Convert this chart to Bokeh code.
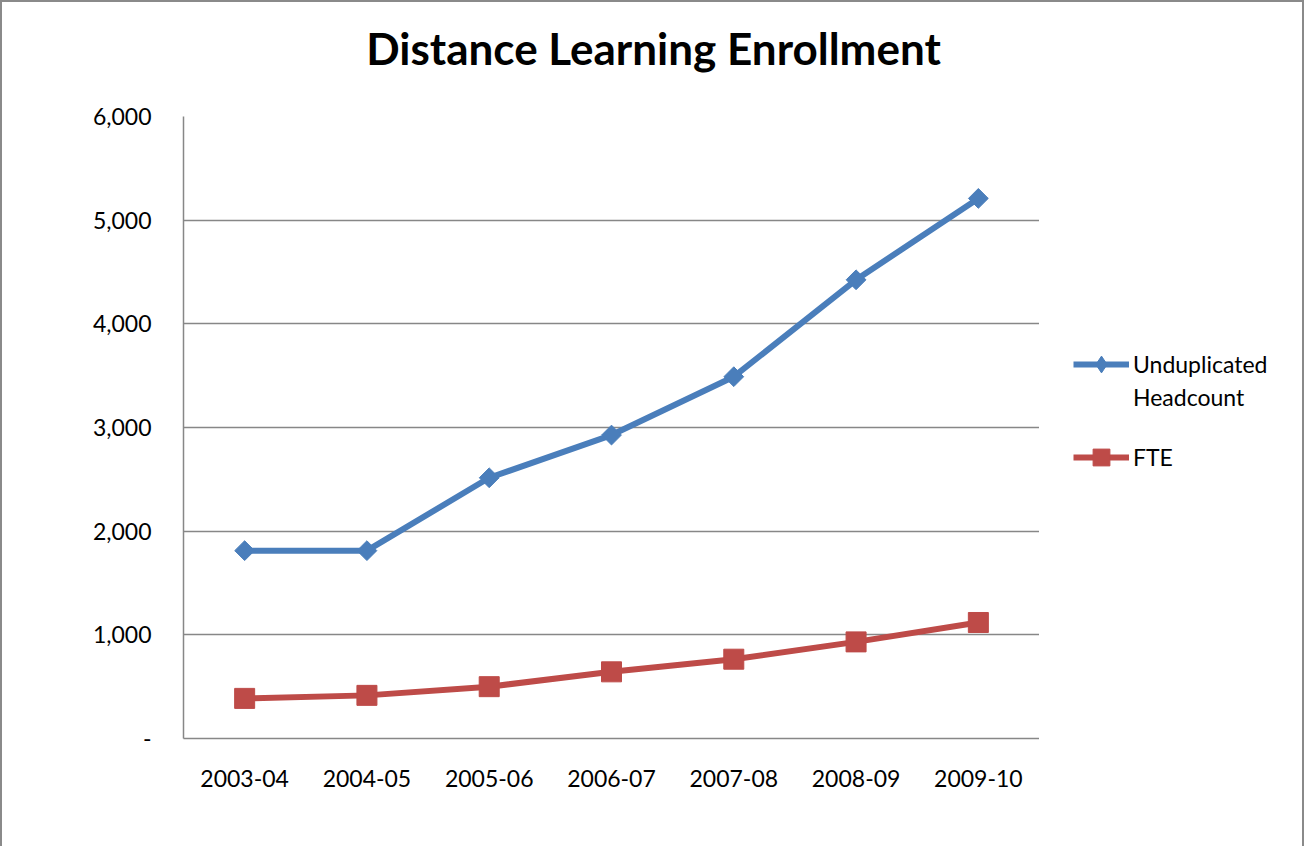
from bokeh.plotting import figure
from bokeh.layouts import column, row
from bokeh.models import Legend, LegendItem, Label, FixedTicker, Range1d, FactorRange
from bokeh.embed import file_html
from bokeh.resources import INLINE

years = ["2003-04", "2004-05", "2005-06", "2006-07", "2007-08", "2008-09", "2009-10"]
headcount = [1812, 1812, 2515, 2927, 3490, 4425, 5210]
fte = [387, 416, 500, 643, 765, 932, 1119]
y_ticks = [0, 1000, 2000, 3000, 4000, 5000, 6000]
y_tick_labels = ["-", "1,000", "2,000", "3,000", "4,000", "5,000", "6,000"]
title_text = "Distance Learning Enrollment"
series_label_lines = ["Unduplicated", "Headcount"]
fte_label = "FTE"

BLUE = "#4A7EBB"
RED = "#BE4B48"
GRID = "#878787"
FONT = "Lato"

# ---------- title strip ----------
pt = figure(width=1300, height=90, output_backend="svg", toolbar_location=None,
            x_axis_location=None, y_axis_location=None, min_border=0,
            x_range=Range1d(0, 1), y_range=Range1d(0, 1))
pt.outline_line_color = None
pt.grid.visible = False
pt.add_layout(Label(x=651, y=45, x_units="screen", y_units="screen", text=title_text,
                    text_align="center", text_baseline="alphabetic", text_font=FONT,
                    text_font_style="bold", text_font_size="44px", text_color="black"))

# ---------- main chart ----------
p = figure(x_range=FactorRange(factors=years), y_range=Range1d(0, 6000),
           width=1037, height=754, output_backend="svg", toolbar_location=None,
           min_border_left=181, min_border_right=0, min_border_top=24, min_border_bottom=108)
p.outline_line_color = None

for ax in (p.xaxis[0], p.yaxis[0]):
    ax.axis_line_color = GRID
    ax.axis_line_width = 1.5
    ax.major_tick_line_color = None
    ax.minor_tick_line_color = None
    ax.major_tick_out = 0
    ax.major_tick_in = 0
    ax.major_label_text_font = FONT
    ax.major_label_text_font_size = "23px"
    ax.major_label_text_color = "black"
p.yaxis.ticker = FixedTicker(ticks=y_ticks)
p.yaxis.major_label_overrides = {t: l for t, l in zip(y_ticks, y_tick_labels)}
p.yaxis.major_label_standoff = 32
p.xaxis.major_label_standoff = 31
p.xgrid.grid_line_color = None
p.ygrid.grid_line_color = GRID
p.ygrid.grid_line_width = 1.5
p.ygrid.ticker = FixedTicker(ticks=y_ticks)

p.line(years, headcount, line_color=BLUE, line_width=6)
p.scatter(years, headcount, marker="square", angle=0.7853981634, size=14,
          fill_color=BLUE, line_color=BLUE)
p.line(years, fte, line_color=RED, line_width=6)
p.scatter(years, fte, marker="square", size=20, fill_color=RED, line_color=RED)

# ---------- legend strip (series drawn off-range, only their legend swatches show) ----------
pl = figure(width=263, height=754, output_backend="svg", toolbar_location=None,
            x_axis_location=None, y_axis_location=None, min_border=0,
            x_range=FactorRange(factors=years), y_range=Range1d(-2, -1))
pl.outline_line_color = None
pl.grid.visible = False
lb = pl.line(years, headcount, line_color=BLUE, line_width=6)
mb = pl.scatter(years, headcount, marker="diamond", fill_color=BLUE, line_color=BLUE)
lr = pl.line(years, fte, line_color=RED, line_width=6)
mr = pl.scatter(years, fte, marker="square", fill_color=RED, line_color=RED)
blank = pl.line(years, headcount, line_alpha=0)

def make_legend(label, renderers, top):
    return Legend(items=[LegendItem(label=label, renderers=renderers)],
                  location=(34, top), glyph_width=56, glyph_height=42, label_standoff=4,
                  padding=0, margin=0, spacing=0, border_line_color=None,
                  background_fill_alpha=0, label_text_font=FONT,
                  label_text_font_size="23px", label_text_color="black")

pl.add_layout(make_legend(series_label_lines[0], [lb, mb], 353), "center")
pl.add_layout(make_legend(series_label_lines[1], [blank], 320), "center")
pl.add_layout(make_legend(fte_label, [lr, mr], 260), "center")

layout = column(pt, row(p, pl))
layout.styles = {"border-top": "2px solid #8a8a8a", "border-left": "2px solid #8a8a8a",
                 "border-right": "2px solid #8a8a8a"}

open("out.html", "w").write(file_html(layout, INLINE))
